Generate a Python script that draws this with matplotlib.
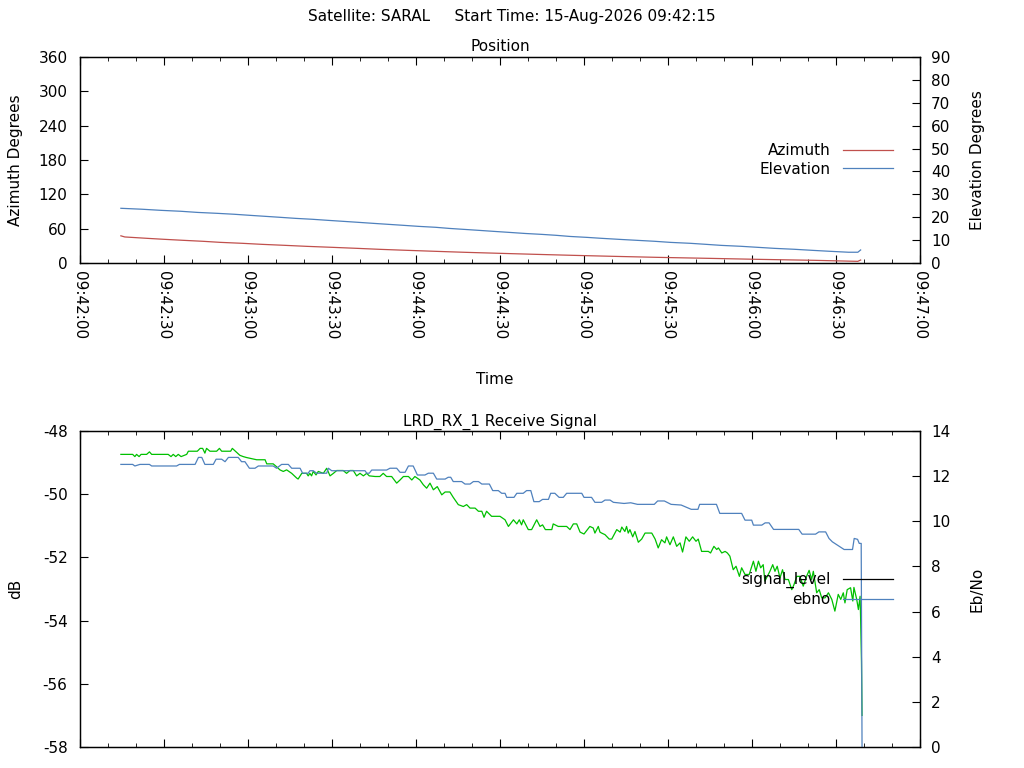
import matplotlib
matplotlib.use('Agg')
import matplotlib.pyplot as plt
import matplotlib.dates as mdates
from matplotlib.lines import Line2D
import pandas as pd

# pass start, seconds are counted from 09:42:00
start = pd.Timestamp('2026-08-15 09:42:00')

az_sec = [14.6, 16, 18, 24, 30, 37, 44, 50, 58, 65, 73, 81, 90, 99, 107, 117, 127,
          138, 150, 163, 176, 190, 206, 224, 242, 262, 275, 277.8, 278.8]
azimuth = [47.5, 45.5, 44.9, 43.1, 41.4, 39.6, 37.9, 36.1, 34.4, 32.6, 30.9, 29.1, 27.4,
           25.6, 23.9, 22.1, 20.4, 18.6, 16.9, 15.1, 13.4, 11.7, 9.9, 8.2, 6.4, 4.7, 3.2,
           2.9, 5.2]

el_sec = [14.6, 22, 29, 36, 42, 49, 55, 61, 66, 71, 77, 83, 89, 94, 99, 105, 110, 115,
          121, 127, 132, 137, 142, 148, 153, 159, 165, 170, 175, 181, 186, 193, 199, 205,
          211, 218, 223, 229, 236, 242, 248, 255, 262, 268, 274.5, 277.8, 278.8]
elevation = [23.9, 23.5, 23.0, 22.6, 22.1, 21.7, 21.3, 20.8, 20.4, 20.0, 19.5, 19.1, 18.6,
             18.2, 17.8, 17.3, 16.9, 16.5, 16.0, 15.6, 15.1, 14.7, 14.3, 13.8, 13.4, 12.9,
             12.5, 12.1, 11.6, 11.2, 10.8, 10.3, 9.9, 9.5, 9.0, 8.6, 8.2, 7.7, 7.3, 6.85,
             6.4, 6.0, 5.5, 5.1, 4.7, 4.7, 5.7]

sig_sec = [14.6, 18.8, 19.6, 20.2, 21.1, 21.8, 23.8, 24.8, 25.6, 31.5, 32.5, 33.3, 34.2,
           35.1, 36.1, 38.1, 38.7, 41.9, 42.9, 43.8, 44.6, 45.2, 46.4, 48.8, 49.8, 50.6,
           53.8, 54.4, 56.0, 57.1, 58.3, 59.5, 63.1, 66.1, 66.7, 69.0, 70.2, 71.4, 72.6,
           73.8, 75.6, 77.4, 77.9, 79.2, 80.9, 81.5, 82.1, 82.7, 83.3, 84.3, 85.1, 86.9,
           88.1, 89.3, 90.5, 91.7, 94.0, 95.2, 96.4, 97.6, 98.8, 100.0, 101.2, 102.4,
           103.3, 105.4, 107.1, 108.3, 109.5, 111.3, 113.1, 114.3, 115.5, 117.3, 118.5,
           119.6, 121.4, 122.6, 123.8, 125.0, 126.2, 127.6, 129.2, 130.4, 132.1, 133.3,
           135.1, 136.9, 138.1, 139.3, 141.1, 142.3, 143.5, 144.3, 145.2, 147.0, 150.0,
           151.8, 153.0, 154.8, 156.0, 156.9, 157.7, 158.3, 160.1, 161.3, 163.1, 164.3,
           165.2, 166.2, 168.5, 169.0, 170.8, 173.8, 175.0, 176.2, 177.4, 178.6, 180.0,
           182.1, 183.3, 183.9, 185.1, 185.7, 186.3, 187.5, 189.0, 189.9, 191.7, 192.9,
           193.5, 194.6, 195.2, 195.8, 196.4, 197.4, 198.2, 199.4, 200.6, 201.8, 204.2,
           205.4, 206.5, 207.7, 208.9, 209.5, 210.7, 211.9, 213.1, 214.3, 215.2, 216.4,
           217.6, 218.8, 220.0, 220.8, 222.0, 224.4, 225.2, 226.4, 227.4, 228.0, 229.2,
           230.4, 231.2, 232.1, 233.3, 234.3, 235.5, 236.3, 237.5, 239.0, 240.5, 241.4,
           242.3, 243.1, 244.0, 244.6, 246.4, 247.4, 248.2, 249.0, 250.0, 250.9, 251.8,
           253.0, 254.2, 255.0, 256.0, 257.1, 258.3, 259.5, 260.4, 261.3, 261.9, 263.1,
           264.0, 264.9, 266.1, 267.3, 268.5, 269.6, 270.8, 271.7, 272.6, 273.2, 274.0,
           275.2, 276.0, 276.4, 277.4, 278.0, 278.6, 278.8, 279.1, 279.3]
signal_level = [-48.74, -48.74, -48.81, -48.74, -48.81, -48.74, -48.74, -48.66, -48.74,
                -48.74, -48.81, -48.74, -48.81, -48.74, -48.81, -48.74, -48.64, -48.64,
                -48.55, -48.55, -48.70, -48.55, -48.64, -48.64, -48.55, -48.64, -48.64,
                -48.55, -48.68, -48.77, -48.81, -48.84, -48.91, -48.91, -49.04, -49.04,
                -49.13, -49.23, -49.28, -49.23, -49.34, -49.49, -49.52, -49.34, -49.34,
                -49.42, -49.34, -49.42, -49.28, -49.39, -49.28, -49.34, -49.18, -49.42,
                -49.34, -49.25, -49.25, -49.34, -49.25, -49.25, -49.42, -49.34, -49.42,
                -49.34, -49.42, -49.44, -49.44, -49.34, -49.44, -49.44, -49.65, -49.55,
                -49.44, -49.44, -49.55, -49.44, -49.55, -49.70, -49.81, -49.65, -49.86,
                -49.76, -50.02, -49.93, -49.93, -50.10, -50.33, -50.39, -50.33, -50.44,
                -50.44, -50.54, -50.54, -50.73, -50.54, -50.70, -50.70, -50.81, -51.02,
                -50.81, -50.94, -50.81, -50.97, -50.81, -51.12, -51.12, -50.81, -51.02,
                -50.97, -51.12, -51.12, -50.94, -51.02, -51.02, -51.12, -50.94, -50.94,
                -51.20, -51.26, -51.02, -51.07, -51.23, -51.02, -51.20, -51.23, -51.28,
                -51.42, -51.42, -51.12, -51.20, -51.04, -51.18, -51.02, -51.23, -51.12,
                -51.35, -51.18, -51.52, -51.42, -51.23, -51.23, -51.42, -51.70, -51.44,
                -51.54, -51.35, -51.60, -51.35, -51.65, -51.54, -51.83, -51.35, -51.49,
                -51.35, -51.49, -51.42, -51.81, -51.81, -51.86, -51.65, -51.75, -51.70,
                -51.86, -51.81, -51.86, -51.96, -52.39, -52.28, -52.60, -52.33, -52.54,
                -52.54, -52.12, -52.44, -52.12, -52.33, -52.23, -52.75, -52.44, -52.23,
                -52.44, -52.28, -52.65, -52.39, -52.70, -52.70, -53.02, -52.86, -52.60,
                -52.60, -52.91, -52.60, -52.41, -52.70, -52.44, -53.12, -53.02, -53.28,
                -53.28, -53.12, -53.33, -53.70, -53.17, -53.33, -53.12, -53.44, -53.02,
                -52.96, -53.38, -52.95, -53.33, -53.65, -53.23, -53.96, -55.3, -57.0]

ebno_sec = [14.6, 18.8, 19.6, 21.4, 24.8, 25.6, 34.5, 35.5, 41.1, 42.3, 43.5, 44.6, 47.6,
            48.6, 50.6, 51.8, 53.0, 56.5, 57.7, 58.9, 60.5, 62.5, 63.7, 69.0, 70.2, 72.0,
            74.4, 75.6, 78.6, 79.5, 81.5, 82.1, 83.3, 84.5, 88.1, 88.7, 89.9, 101.8, 102.4,
            103.3, 104.2, 109.5, 110.7, 113.1, 114.3, 116.1, 117.3, 119.0, 120.5, 123.2,
            124.4, 126.2, 127.4, 130.4, 131.5, 132.4, 133.3, 136.3, 137.5, 139.3, 140.5,
            142.3, 143.5, 146.2, 147.4, 149.4, 150.6, 151.8, 152.4, 155.0, 156.0, 158.3,
            159.5, 161.0, 162.1, 164.0, 165.2, 167.3, 168.1, 169.6, 171.1, 172.6, 173.8,
            179.2, 180.0, 182.7, 183.9, 186.3, 187.5, 189.3, 190.5, 194.3, 196.7, 199.1,
            205.1, 206.3, 208.7, 211.1, 214.7, 218.3, 220.7, 221.3, 227.3, 228.5, 236.3,
            237.5, 239.9, 240.5, 243.5, 244.7, 246.1, 247.7, 256.7, 257.9, 262.7, 263.9,
            266.3, 267.5, 268.7, 272.9, 275.9, 276.5, 277.7, 278.3, 279.0, 279.3]
ebno = [12.52, 12.52, 12.45, 12.52, 12.52, 12.45, 12.45, 12.52, 12.52, 12.83, 12.83,
        12.52, 12.52, 12.75, 12.75, 12.64, 12.83, 12.83, 12.64, 12.64, 12.35, 12.35,
        12.45, 12.45, 12.35, 12.52, 12.52, 12.35, 12.35, 12.13, 12.13, 12.24, 12.24,
        12.13, 12.13, 12.35, 12.24, 12.24, 12.13, 12.13, 12.27, 12.27, 12.35, 12.35,
        12.17, 12.17, 12.45, 12.45, 12.05, 12.05, 12.13, 12.13, 11.87, 11.87, 11.95,
        11.95, 11.76, 11.76, 11.65, 11.65, 11.76, 11.76, 11.65, 11.65, 11.36, 11.36,
        11.24, 11.24, 11.06, 11.06, 11.24, 11.24, 11.36, 11.36, 10.87, 10.87, 10.97,
        10.97, 11.24, 11.24, 11.06, 11.06, 11.24, 11.24, 11.06, 11.06, 10.84, 10.84,
        10.94, 10.94, 10.84, 10.79, 10.82, 10.75, 10.75, 10.90, 10.90, 10.75, 10.72,
        10.53, 10.53, 10.75, 10.75, 10.35, 10.35, 10.05, 10.05, 9.83, 9.83, 9.93, 9.93,
        9.64, 9.64, 9.43, 9.43, 9.53, 9.53, 9.24, 9.09, 8.75, 8.75, 9.24, 9.20, 9.02,
        9.02, 0.0]

az_color = '#c0504d'
el_color = '#4f81bd'
sig_color = '#00c000'


def to_time(secs):
    return (start + pd.to_timedelta(secs, unit='s')).values


def style_axes(ax, ax2):
    ax.set_xlim(start.to_datetime64(), (start + pd.Timedelta(minutes=5)).to_datetime64())
    ax.xaxis.set_major_locator(mdates.SecondLocator(bysecond=[0, 30]))
    ax.xaxis.set_minor_locator(mdates.SecondLocator(bysecond=range(0, 60, 10)))
    ax.xaxis.set_major_formatter(mdates.DateFormatter('%H:%M:%S'))
    ax.tick_params(axis='x', which='both', direction='in', top=True)
    ax.tick_params(axis='x', which='major', length=5.5)
    ax.tick_params(axis='x', which='minor', length=2.8)
    ax.tick_params(axis='y', direction='in', length=5.5, right=False, pad=9)
    ax2.tick_params(axis='y', direction='in', length=5.5, pad=8)
    for a in (ax, ax2):
        for s in a.spines.values():
            s.set_linewidth(0.9)


plt.rcParams['font.family'] = ['DejaVu Sans']
plt.rcParams['font.size'] = 11
plt.rcParams['axes.unicode_minus'] = False

fig = plt.figure(figsize=(10.24, 7.68), dpi=100)
fig.text(0.5, 1 - 17 / 768, 'Satellite: SARAL     Start Time: 15-Aug-2026 09:42:15',
         ha='center', va='center', fontsize=11)

# position panel
ax = fig.add_axes([80 / 1024, 1 - 263 / 768, 840 / 1024, 206 / 768])
ax2 = ax.twinx()
ax.plot(to_time(az_sec), azimuth, color=az_color, lw=0.9)
ax2.plot(to_time(el_sec), elevation, color=el_color, lw=0.9)
ax.set_ylim(0, 360)
ax.set_yticks(range(0, 361, 60))
ax2.set_ylim(0, 90)
ax2.set_yticks(range(0, 91, 10))
style_axes(ax, ax2)
ax.tick_params(axis='x', which='major', pad=6)
for lbl in ax.get_xticklabels():
    lbl.set_rotation(270)
ax.set_title('Position', fontsize=11, pad=4)
ax.set_xlabel('Time')
ax.xaxis.set_label_coords(0.494, -0.53)
ax.set_ylabel('Azimuth Degrees')
ax.yaxis.set_label_coords(-0.068, 0.5)
ax2.set_ylabel('Elevation Degrees')
ax2.yaxis.set_label_coords(1.059, 0.5)
handles = [Line2D([], [], color=az_color, lw=0.9), Line2D([], [], color=el_color, lw=0.9)]
fig.legend(handles, ['Azimuth', 'Elevation'], loc='upper right',
           bbox_to_anchor=(893 / 1024, 1 - 143 / 768), frameon=False, markerfirst=False,
           handlelength=3.3, handletextpad=0.8, labelspacing=0.25, borderpad=0,
           borderaxespad=0, fontsize=11)

# receive signal panel
bx = fig.add_axes([80 / 1024, 1 - 747 / 768, 840 / 1024, 316 / 768])
bx2 = bx.twinx()
bx.plot(to_time(sig_sec), signal_level, color=sig_color, lw=0.9)
bx2.plot(to_time(ebno_sec), ebno, color=el_color, lw=0.9)
bx.set_ylim(-58, -48)
bx.set_yticks(range(-58, -47, 2))
bx2.set_ylim(0, 14)
bx2.set_yticks(range(0, 15, 2))
style_axes(bx, bx2)
bx.tick_params(axis='x', labelbottom=False)
bx.set_title('LRD_RX_1 Receive Signal', fontsize=11, pad=4)
bx.set_ylabel('dB')
bx.yaxis.set_label_coords(-0.068, 0.5)
bx2.set_ylabel('Eb/No')
bx2.yaxis.set_label_coords(1.059, 0.5)
handles = [Line2D([], [], color='black', lw=0.9), Line2D([], [], color=el_color, lw=0.9)]
fig.legend(handles, ['signal_level', 'ebno'], loc='upper right',
           bbox_to_anchor=(893 / 1024, 1 - 572 / 768), frameon=False, markerfirst=False,
           handlelength=3.3, handletextpad=0.8, labelspacing=0.25, borderpad=0,
           borderaxespad=0, fontsize=11)

fig.savefig('out.png', dpi=100)
